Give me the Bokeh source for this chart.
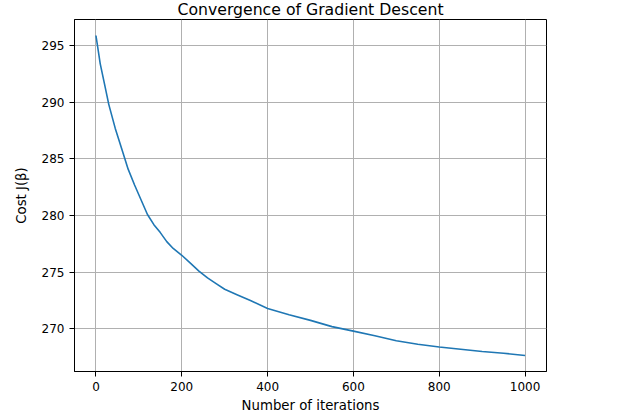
from bokeh.plotting import figure
from bokeh.models import Range1d, FixedTicker
from bokeh.embed import file_html
from bokeh.resources import INLINE

# Data
iterations = [0, 10, 20, 30, 45, 60, 75, 90, 105, 120, 135, 150, 165, 180, 200,
              220, 240, 260, 280, 300, 330, 360, 400, 450, 500, 550, 600, 650,
              700, 750, 800, 850, 900, 950, 1000]
cost = [295.9, 293.4, 291.6, 289.8, 287.7, 285.9, 284.1, 282.7, 281.4, 280.1,
        279.2, 278.5, 277.7, 277.1, 276.5, 275.8, 275.1, 274.5, 274.0, 273.5,
        273.0, 272.5, 271.8, 271.25, 270.75, 270.2, 269.8, 269.4, 268.95,
        268.65, 268.4, 268.2, 268.0, 267.85, 267.65]
x_ticks = [0, 200, 400, 600, 800, 1000]
y_ticks = [270, 275, 280, 285, 290, 295]
title_text = "Convergence of Gradient Descent"
x_label = "Number of iterations"
y_label = "Cost J(β)"

FONT = "DejaVu Sans"

def padded(vals, frac=0.05):
    lo, hi = min(vals), max(vals)
    d = (hi - lo) * frac
    return lo - d, hi + d

xlo, xhi = padded(iterations)
ylo, yhi = padded(cost)

SHIFT = 11          # part of the top border scrolled above the window
W, H = 628, 416
ML, MR, MT, MB = 74, 82, 19, 45

p = figure(width=W, height=H + SHIFT, output_backend="svg", toolbar_location=None,
           x_range=Range1d(xlo, xhi), y_range=Range1d(ylo, yhi),
           min_border_left=ML, min_border_right=MR,
           min_border_top=MT + SHIFT, min_border_bottom=MB,
           title=title_text)
p.styles = {"margin-top": f"-{SHIFT}px"}
p.title.align = "center"
p.title.text_font = FONT
p.title.text_font_size = "15.7px"
p.title.text_font_style = "normal"
p.title.text_color = "black"
p.title.standoff = 2
p.title.vertical_align = "bottom"

p.background_fill_color = "white"
p.border_fill_color = "white"
p.outline_line_color = "black"
p.outline_line_width = 1
p.outline_line_alpha = 1

p.line(iterations, cost, line_color="#1f77b4", line_width=1.6)

p.xaxis.ticker = FixedTicker(ticks=x_ticks)
p.yaxis.ticker = FixedTicker(ticks=y_ticks)

for ax in (p.xaxis[0], p.yaxis[0]):
    ax.major_label_text_font = FONT
    ax.major_label_text_font_size = "12px"
    ax.major_label_text_color = "black"
    ax.axis_label_text_font = FONT
    ax.axis_label_text_font_size = "13.3px"
    ax.axis_label_text_font_style = "normal"
    ax.axis_label_text_color = "black"
    ax.axis_line_color = "black"
    ax.major_tick_line_color = "black"
    ax.major_tick_out = 5
    ax.major_tick_in = 0
    ax.minor_tick_line_color = None
    ax.major_label_standoff = 5

p.xaxis.axis_label = x_label
p.yaxis.axis_label = y_label
p.xaxis.axis_label_standoff = 4
p.yaxis.axis_label_standoff = 10

p.grid.grid_line_color = "#b0b0b0"
p.grid.grid_line_width = 1

open("out.html", "w").write(file_html(p, INLINE))
